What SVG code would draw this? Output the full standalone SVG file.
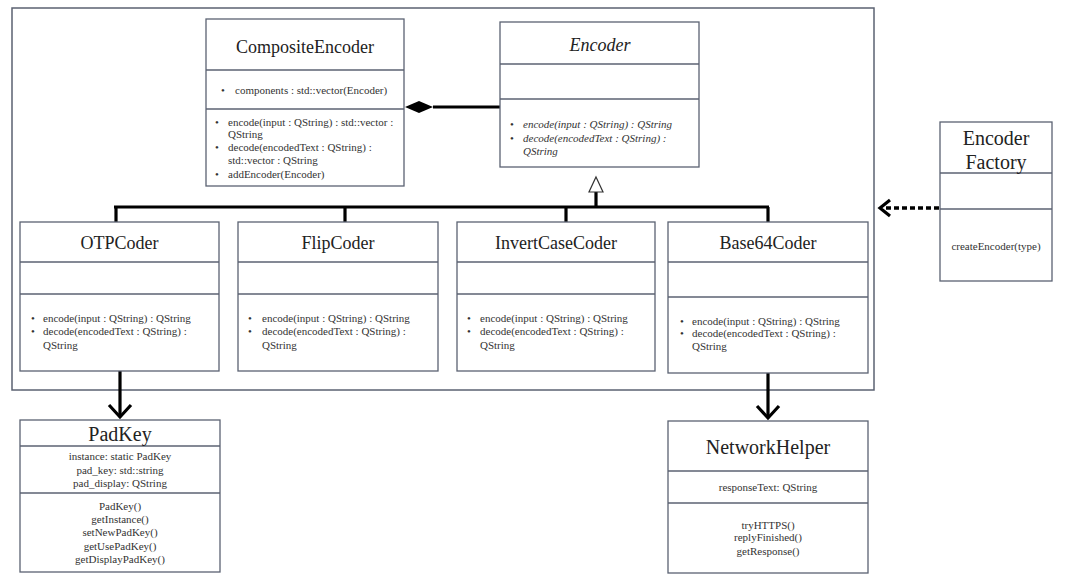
<svg xmlns="http://www.w3.org/2000/svg" width="1067" height="585" viewBox="0 0 1067 585">
<style>
.box{fill:#fff;stroke:#5b6272;stroke-width:1.3}
.div{stroke:#5b6272;stroke-width:1.3}
.t{font-family:'Liberation Serif','Times New Roman','DejaVu Serif',serif;fill:#222}
.title{font-size:18px}
.big{font-size:20px}
.s{font-size:11px;fill:#333}
.c{text-anchor:middle}
.i{font-style:italic}
.conn{stroke:#000;stroke-width:3.2;fill:none}
</style>
<rect width="1067" height="585" fill="#fff"/>
<rect x="12" y="8" width="862" height="382" fill="none" stroke="#5b6272" stroke-width="1.5"/>

<g id="connectors">
  <line class="conn" x1="433" y1="107" x2="500" y2="107"/>
  <polygon points="405,107 419,101 433,107 419,113" fill="#000"/>
  <line class="conn" x1="114" y1="207" x2="769" y2="207"/>
  <line class="conn" x1="596" y1="192" x2="596" y2="207"/>
  <polygon points="596,177 603,192 589,192" fill="#fff" stroke="#333" stroke-width="1.2"/>
  <line class="conn" x1="116" y1="207" x2="116" y2="222"/>
  <line class="conn" x1="345" y1="207" x2="345" y2="222"/>
  <line class="conn" x1="566" y1="207" x2="566" y2="222"/>
  <line class="conn" x1="768" y1="207" x2="768" y2="222"/>
  <line class="conn" x1="120" y1="371" x2="120" y2="417"/>
  <polyline class="conn" points="109,405 120,417 131,405"/>
  <line class="conn" x1="768" y1="373" x2="768" y2="418"/>
  <polyline class="conn" points="757,406 768,418 779,406"/>
  <line x1="939" y1="208" x2="886" y2="208" stroke="#000" stroke-width="3.5" stroke-dasharray="5,3"/>
  <polyline class="conn" points="890,200 880,208 890,216"/>
</g>

<g id="CompositeEncoder">
  <rect class="box" x="206" y="19" width="198" height="167"/>
  <line class="div" x1="206" y1="70" x2="404" y2="70"/>
  <line class="div" x1="206" y1="109" x2="404" y2="109"/>
  <text class="t title c" x="305" y="53">CompositeEncoder</text>
  <text class="t s" x="221" y="94">•</text>
  <text class="t s" x="235" y="94">components : std::vector(Encoder)</text>
  <text class="t s" x="215" y="126">•</text>
  <text class="t s" x="228" y="126">encode(input : QString) : std::vector :</text>
  <text class="t s" x="228" y="138">QString</text>
  <text class="t s" x="215" y="151">•</text>
  <text class="t s" x="228" y="151">decode(encodedText : QString) :</text>
  <text class="t s" x="228" y="164">std::vector : QString</text>
  <text class="t s" x="215" y="178">•</text>
  <text class="t s" x="228" y="178">addEncoder(Encoder)</text>
</g>

<g id="Encoder">
  <rect class="box" x="500" y="22" width="199" height="145"/>
  <line class="div" x1="500" y1="64" x2="699" y2="64"/>
  <line class="div" x1="500" y1="99" x2="699" y2="99"/>
  <text class="t title c i" x="600" y="51">Encoder</text>
  <text class="t s" x="510" y="128">•</text>
  <text class="t s i" x="523" y="128">encode(input : QString) : QString</text>
  <text class="t s" x="510" y="142">•</text>
  <text class="t s i" x="523" y="142">decode(encodedText : QString) :</text>
  <text class="t s i" x="523" y="155">QString</text>
</g>

<g id="OTPCoder">
  <rect class="box" x="20" y="222" width="199" height="149"/>
  <line class="div" x1="20" y1="262" x2="219" y2="262"/>
  <line class="div" x1="20" y1="294" x2="219" y2="294"/>
  <text class="t title c" x="119.5" y="249">OTPCoder</text>
  <text class="t s" x="31" y="322">•</text>
  <text class="t s" x="43" y="322">encode(input : QString)  : QString</text>
  <text class="t s" x="31" y="335">•</text>
  <text class="t s" x="43" y="335">decode(encodedText : QString) :</text>
  <text class="t s" x="43" y="349">QString</text>
</g>

<g id="FlipCoder">
  <rect class="box" x="238" y="222" width="200" height="149"/>
  <line class="div" x1="238" y1="262" x2="438" y2="262"/>
  <line class="div" x1="238" y1="294" x2="438" y2="294"/>
  <text class="t title c" x="338" y="249">FlipCoder</text>
  <text class="t s" x="248" y="322">•</text>
  <text class="t s" x="262" y="322">encode(input : QString)  : QString</text>
  <text class="t s" x="248" y="335">•</text>
  <text class="t s" x="262" y="335">decode(encodedText : QString) :</text>
  <text class="t s" x="262" y="349">QString</text>
</g>

<g id="InvertCaseCoder">
  <rect class="box" x="457" y="222" width="198" height="149"/>
  <line class="div" x1="457" y1="262" x2="655" y2="262"/>
  <line class="div" x1="457" y1="294" x2="655" y2="294"/>
  <text class="t title c" x="556" y="249">InvertCaseCoder</text>
  <text class="t s" x="467" y="322">•</text>
  <text class="t s" x="480" y="322">encode(input : QString)  : QString</text>
  <text class="t s" x="467" y="335">•</text>
  <text class="t s" x="480" y="335">decode(encodedText : QString) :</text>
  <text class="t s" x="480" y="349">QString</text>
</g>

<g id="Base64Coder">
  <rect class="box" x="668" y="222" width="200" height="151"/>
  <line class="div" x1="668" y1="262" x2="868" y2="262"/>
  <line class="div" x1="668" y1="297" x2="868" y2="297"/>
  <text class="t title c" x="768" y="249">Base64Coder</text>
  <text class="t s" x="680" y="325">•</text>
  <text class="t s" x="692" y="325">encode(input : QString)  : QString</text>
  <text class="t s" x="680" y="337">•</text>
  <text class="t s" x="692" y="337">decode(encodedText : QString) :</text>
  <text class="t s" x="692" y="350">QString</text>
</g>

<g id="EncoderFactory">
  <rect class="box" x="940" y="122" width="112" height="159"/>
  <line class="div" x1="940" y1="173" x2="1052" y2="173"/>
  <line class="div" x1="940" y1="209" x2="1052" y2="209"/>
  <text class="t big c" x="996" y="145">Encoder</text>
  <text class="t big c" x="996" y="169">Factory</text>
  <text class="t s c" x="996" y="250">createEncoder(type)</text>
</g>

<g id="PadKey">
  <rect class="box" x="20" y="420" width="200" height="152"/>
  <line class="div" x1="20" y1="446" x2="220" y2="446"/>
  <line class="div" x1="20" y1="493" x2="220" y2="493"/>
  <text class="t big c" x="120" y="441">PadKey</text>
  <text class="t s c" x="120" y="460">instance: static PadKey</text>
  <text class="t s c" x="120" y="474">pad_key: std::string</text>
  <text class="t s c" x="120" y="487">pad_display: QString</text>
  <text class="t s c" x="120" y="510">PadKey()</text>
  <text class="t s c" x="120" y="523">getInstance()</text>
  <text class="t s c" x="120" y="536">setNewPadKey()</text>
  <text class="t s c" x="120" y="550">getUsePadKey()</text>
  <text class="t s c" x="120" y="563">getDisplayPadKey()</text>
</g>

<g id="NetworkHelper">
  <rect class="box" x="668" y="421" width="200" height="152"/>
  <line class="div" x1="668" y1="471" x2="868" y2="471"/>
  <line class="div" x1="668" y1="503" x2="868" y2="503"/>
  <text class="t big c" x="768" y="454">NetworkHelper</text>
  <text class="t s c" x="768" y="491">responseText: QString</text>
  <text class="t s c" x="768" y="529">tryHTTPS()</text>
  <text class="t s c" x="768" y="541">replyFinished()</text>
  <text class="t s c" x="768" y="555">getResponse()</text>
</g>
</svg>
